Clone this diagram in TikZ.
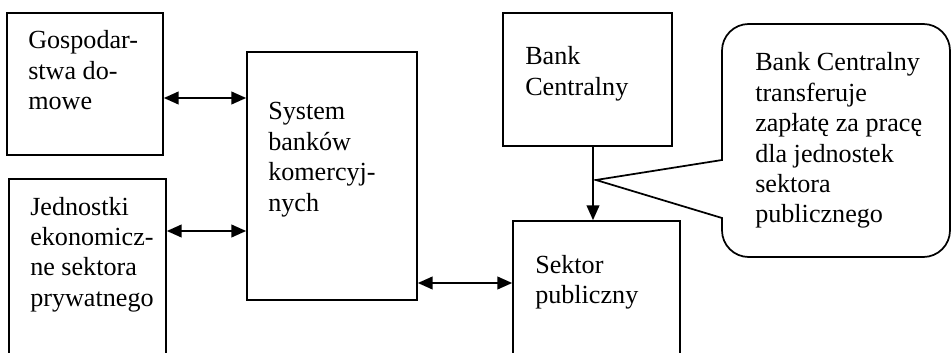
\documentclass[tikz,border=0pt]{standalone}
\usepackage{fontspec}
\setmainfont{Liberation Serif}
\usetikzlibrary{arrows.meta,fit}
% stacked lines whose baseline is the baseline of the first line
\newcommand\linestack[1]{\vtop{\baselineskip=22.8pt\halign{##\hfil\cr#1\crcr}}}
\tikzset{
  panel/.style={draw, line width=1.3pt, inner sep=0pt},
  boxtext/.style={anchor=base west, inner sep=0pt, font=\fontsize{19.6pt}{22.8pt}\selectfont},
  link/.style={line width=1.2pt, {Triangle[length=11pt,width=9.5pt]}-{Triangle[length=11pt,width=9.5pt]}},
  feed/.style={line width=1.2pt, -{Triangle[length=11pt,width=9.5pt]}},
}
\begin{document}
\begin{tikzpicture}[x=0.75pt,y=-0.75pt]
\useasboundingbox (0,0) rectangle (951,353);
\clip (0,0) rectangle (951,353);

% boxes
\node[panel, fit={(7,13)(163,155)}] (gd) {};
\node[panel, fit={(9,179)(166,390)}] (jed) {};
\node[panel, fit={(247,52)(417,300)}] (sys) {};
\node[panel, fit={(503,13)(672,146)}] (bank) {};
\node[panel, fit={(513,221)(680,390)}] (sek) {};

% box texts
\node[boxtext] (gdt) at (28,49) {\linestack{Gospodar-\cr stwa do-\cr mowe}};
\node[boxtext] (jedt) at (30,215) {\linestack{Jednostki\cr ekonomicz-\cr ne sektora\cr prywatnego}};
\node[boxtext] (syst) at (268,120) {\linestack{System\cr banków\cr komercyj-\cr nych}};
\node[boxtext] (bankt) at (525,65) {\linestack{Bank\cr Centralny}};
\node[boxtext] (sekt) at (535,273) {\linestack{Sektor\cr publiczny}};

% connectors
\coordinate (r1) at (0,98);
\coordinate (r2) at (0,231);
\coordinate (r3) at (0,283);
\coordinate (c1) at (593,0);
\draw[link] (gd.east |- r1) -- (sys.west |- r1);
\draw[link] (jed.east |- r2) -- (sys.west |- r2);
\draw[link] (sys.east |- r3) -- (sek.west |- r3);
\draw[feed] (bank.south -| c1) -- (sek.north -| c1);

% speech bubble
\coordinate (ptr) at (596,180);
\draw[line width=1.3pt] (ptr) -- (722,218) [rounded corners=20pt] -- (722,257) -- (950,257) -- (950,24) -- (722,24) [sharp corners] -- (722,160) -- cycle;
\node[boxtext] (note) at (755,71) {\linestack{Bank Centralny\cr transferuje\cr zapłatę za pracę\cr dla jednostek\cr sektora\cr publicznego}};
\end{tikzpicture}
\end{document}
